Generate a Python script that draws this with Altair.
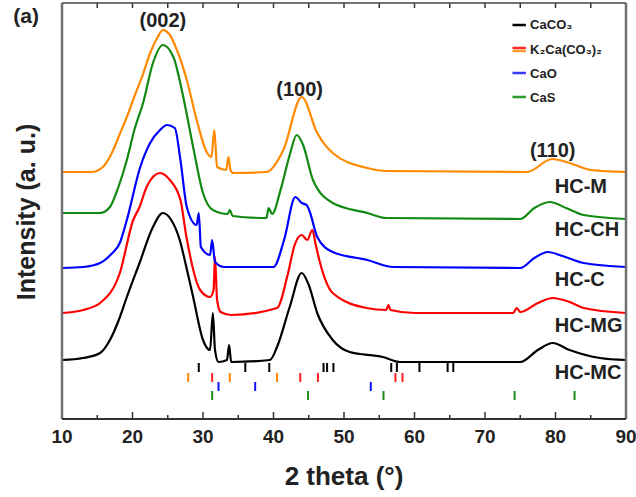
import altair as alt
import pandas as pd

# ---------------- data (2theta in degrees, intensity in arbitrary units) ----------------
tt_mc = [10, 13, 15.4, 16.8, 18, 19.2, 21, 22.9, 24.3, 25.5, 26.7, 27.7, 28.6, 30, 31, 31.4, 31.7, 32.2, 33.4, 33.7, 34.0,
         39.5, 40.5, 42.3, 44, 45, 46.2, 48.4, 50.8, 55.5, 58, 75, 77.5, 79.6, 82, 86.3, 90]
in_mc = [59, 61, 66, 79, 98, 122, 156, 192, 206, 199, 179, 150, 122, 79, 69, 106, 69, 57, 59, 74, 57,
         59, 72, 112, 146, 134, 106, 79, 67, 62, 57, 57, 69, 76, 69, 61, 59]

tt_mg = [10, 13, 15.4, 18.2, 20.1, 21, 22, 23.9, 25.3, 26.8, 27.7, 29.6, 31, 31.5, 31.7, 32.0, 32.5, 34,
         40.5, 42, 43, 44, 44.8, 45.5, 46.0, 46.5, 48.4, 53.2, 56.0, 56.3, 56.6, 60, 74, 74.5, 75,
         77.5, 79.6, 82, 84, 90]
in_mg = [106, 109, 116, 146, 199, 212, 232, 246, 239, 219, 180, 129, 122, 129, 162, 119, 107, 104,
         111, 144, 174, 184, 179, 189, 174, 159, 126, 111, 109, 114, 109, 106, 106, 111, 107,
         116, 121, 117, 111, 106]

tt_c = [10, 13, 15.4, 17, 18.2, 19.2, 21.1, 22.5, 23.9, 24.9, 26, 26.8, 27.7, 29.1, 29.4, 29.7, 31, 31.3, 31.7, 33,
        40, 41.5, 43.1, 44, 44.7, 45.2, 46.2, 48.4, 53.3, 57, 75, 77, 78.9, 81, 84, 90]
in_c = [151, 152, 156, 165, 176, 199, 252, 276, 289, 294, 291, 259, 212, 194, 206, 172, 164, 179, 157, 152,
        152, 179, 222, 216, 214, 206, 182, 167, 159, 152, 151, 161, 167, 163, 156, 152]

tt_ch = [10, 15.4, 16.8, 18, 19.2, 20.3, 21.5, 22.9, 24.3, 25.8, 27.2, 28.6, 30, 31.4, 33.5, 33.8, 34.2,
         39, 39.3, 39.8, 41, 42.3, 43.3, 44.2, 45.6, 48.4, 53.3, 56, 75, 77, 79.2, 81.5, 84, 90]
in_ch = [206, 206, 212, 232, 259, 290, 316, 356, 374, 362, 322, 272, 226, 209, 205, 209, 203,
         201, 211, 205, 229, 264, 284, 274, 239, 216, 206, 201, 200, 211, 217, 211, 204, 200]

tt_m = [10, 14.2, 15.8, 17, 18.2, 19.2, 20.4, 21.5, 22.5, 23.5, 24.3, 25.2, 26.3, 27.7, 29.1, 30.6, 31.2, 31.6, 32,
        33.3, 33.6, 33.9, 34.3, 39, 41.4, 44, 46.2, 48.4, 53.3, 56, 76, 79.5, 82, 85, 90]
in_m = [247, 247, 252, 265, 285, 302, 325, 345, 366, 381, 389, 385, 369, 339, 299, 266, 262, 289, 252,
        249, 262, 249, 246, 247, 269, 322, 286, 266, 251, 248, 247, 260, 256, 249, 247]

samples = ["HC-MC", "HC-MG", "HC-C", "HC-CH", "HC-M"]
sample_colors = ["#000000", "#ff0000", "#0000ff", "#128a12", "#ff8a00"]

# reference phase markers (2theta positions)
ref_caco3 = [29.4, 36.0, 39.4, 47.1, 47.6, 48.5, 56.7, 57.5, 60.7, 64.7, 65.5]
ref_k2_orange = [27.9, 33.8, 40.5]
ref_k2_red = [31.3, 43.8, 46.3, 57.3, 58.3]
ref_cao = [32.2, 37.4, 53.8]
ref_cas = [31.3, 44.9, 55.6, 74.2, 82.7]

# annotations
peak_labels = ["(002)", "(100)", "(110)"]
peak_x = [24.3, 43.7, 79.6]
peak_y = [398, 329, 268]

hc_labels = ["HC-M", "HC-CH", "HC-C", "HC-MG", "HC-MC"]
hc_y = [232, 189, 139, 93, 46]
hc_x = 79.9

legend_names = ["CaCO₃", "K₂Ca(CO₃)₂", "CaO", "CaS"]
legend_y = [394, 369, 345.5, 321.5]
legend_line_y = [394, 371, 368, 346, 322]
legend_line_col = ["#000000", "#ff2a2a", "#ff9a30", "#3a3aff", "#2a9a2a"]

x_domain = [10, 90]
y_domain = [0, 416]
major_ticks = [10, 20, 30, 40, 50, 60, 70, 80, 90]
minor_ticks = [15, 25, 35, 45, 55, 65, 75, 85]
all_ticks = [10, 15, 20, 25, 30, 35, 40, 45, 50, 55, 60, 65, 70, 75, 80, 85, 90]
x_title = "2 theta (°)"
y_title = "Intensity (a. u.)"

# ---------------- tables ----------------
rows = []
for name, col, tt, iv in zip(samples, sample_colors,
                             [tt_mc, tt_mg, tt_c, tt_ch, tt_m],
                             [in_mc, in_mg, in_c, in_ch, in_m]):
    for a, b in zip(tt, iv):
        rows.append({"x": a, "y": b, "sample": name, "col": col})
curves = pd.DataFrame(rows)

lo, hi = y_domain
xa, xb = x_domain
TICK = "#333333"
FRAME = "#707070"

# one rule table: phase markers, axis ticks (inward) and the plot frame
seg = []
for xs, col, y1, y2 in [(ref_caco3, "#000000", 47, 56),
                        (ref_k2_orange, "#ff8a00", 37, 46),
                        (ref_k2_red, "#ff2020", 37, 46),
                        (ref_cao, "#1010ff", 28, 37),
                        (ref_cas, "#1a8a1a", 19, 28)]:
    for v in xs:
        seg.append({"x": v, "x2": v, "y": y1, "y2": y2, "col": col, "w": 2.0})
for v in major_ticks:
    seg.append({"x": v, "x2": v, "y": lo, "y2": lo + 7, "col": TICK, "w": 1.5})
for v in minor_ticks:
    seg.append({"x": v, "x2": v, "y": lo, "y2": lo + 4, "col": TICK, "w": 1.5})
for v in all_ticks:
    seg.append({"x": v, "x2": v, "y": hi, "y2": hi - 5, "col": TICK, "w": 1.5})
seg.append({"x": xa, "x2": xa, "y": lo, "y2": hi, "col": FRAME, "w": 2.5})
seg.append({"x": xb, "x2": xb, "y": lo, "y2": hi, "col": FRAME, "w": 2.5})
seg.append({"x": xa, "x2": xb, "y": hi, "y2": hi, "col": "#444444", "w": 1.5})
seg.append({"x": xa, "x2": xb, "y": lo, "y2": lo, "col": "#333333", "w": 2.0})
for y, col in zip(legend_line_y, legend_line_col):
    seg.append({"x": 73.9, "x2": 75.8, "y": y, "y2": y, "col": col, "w": 2.5})
segments = pd.DataFrame(seg)

peaks = pd.DataFrame({"x": peak_x, "y": peak_y, "t": peak_labels})
hcs = pd.DataFrame({"x": [hc_x] * len(hc_labels), "y": hc_y, "t": hc_labels})
leg_txt = pd.DataFrame({"x": [76.4] * 4, "y": legend_y, "t": legend_names})
tag = pd.DataFrame({"x": [4.9], "y": [402], "t": ["(a)"]})
tick_lab = pd.DataFrame({"x": major_ticks, "t": [str(v) for v in major_ticks]})

FONT = "Liberation Sans"
XS = alt.Scale(domain=x_domain, nice=False, zero=False)
YS = alt.Scale(domain=y_domain, nice=False, zero=False)
W = 564
H = 416
TXT = "#222222"

lines = alt.Chart(curves).mark_line(strokeWidth=2.2, interpolate="monotone").encode(
    x=alt.X("x:Q", scale=XS, axis=None),
    y=alt.Y("y:Q", scale=YS, axis=None),
    detail="sample:N",
    color=alt.Color("col:N", scale=None),
)

seg_layer = alt.Chart(segments).mark_rule().encode(
    x=alt.X("x:Q", scale=XS, axis=None),
    x2="x2:Q",
    y=alt.Y("y:Q", scale=YS, axis=None),
    y2="y2:Q",
    color=alt.Color("col:N", scale=None),
    strokeWidth=alt.StrokeWidth("w:Q", scale=None),
)

# tick labels and axis titles
tick_text = alt.Chart(tick_lab).mark_text(font=FONT, fontSize=19, fontWeight="bold", color=TXT,
                                          baseline="middle").encode(
    x=alt.X("x:Q", scale=XS, axis=None), y=alt.value(H + 18), text="t:N")
one = pd.DataFrame({"k": [0]})
xtitle = alt.Chart(one).mark_text(text=x_title, font=FONT, fontSize=26, fontWeight="bold", color=TXT,
                                  baseline="middle").encode(x=alt.value(W / 2), y=alt.value(H + 58))
ytitle = alt.Chart(one).mark_text(text=y_title, font=FONT, fontSize=25, fontWeight="bold", color=TXT,
                                  baseline="middle", angle=270).encode(x=alt.value(-35), y=alt.value(H / 2 + 1))

peak_layer = alt.Chart(peaks).mark_text(font=FONT, fontSize=20, fontWeight="bold",
                                        color=TXT, baseline="middle").encode(
    x=alt.X("x:Q", scale=XS, axis=None),
    y=alt.Y("y:Q", scale=YS, axis=None),
    text="t:N",
)

hc_layer = alt.Chart(hcs).mark_text(font=FONT, fontSize=20, fontWeight="bold", color=TXT,
                                    align="left", baseline="middle").encode(
    x=alt.X("x:Q", scale=XS, axis=None),
    y=alt.Y("y:Q", scale=YS, axis=None),
    text="t:N",
)

leg_layer = alt.Chart(leg_txt).mark_text(font=FONT, fontSize=13, fontWeight="bold", color=TXT,
                                         align="left", baseline="middle").encode(
    x=alt.X("x:Q", scale=XS, axis=None),
    y=alt.Y("y:Q", scale=YS, axis=None),
    text="t:N",
)

tag_layer = alt.Chart(tag).mark_text(font=FONT, fontSize=21, fontWeight="bold", color=TXT,
                                     baseline="middle").encode(
    x=alt.X("x:Q", scale=XS, axis=None),
    y=alt.Y("y:Q", scale=YS, axis=None),
    text="t:N",
)

chart = alt.layer(
    lines, seg_layer,
    tick_text, xtitle, ytitle,
    peak_layer, hc_layer, leg_layer, tag_layer,
).properties(
    width=W, height=H,
    autosize=alt.AutoSizeParams(type="none"),
    padding={"left": 62, "top": 3, "right": 10, "bottom": 78},
    background="white",
).configure_view(stroke=None)

chart.save("out.html", embed_options={"renderer": "svg", "actions": False})
